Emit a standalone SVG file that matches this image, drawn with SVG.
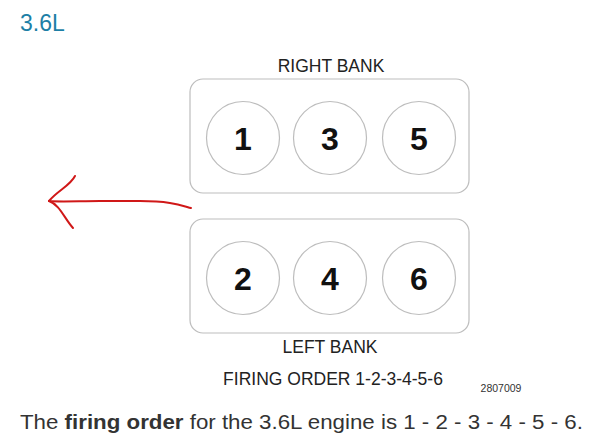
<svg xmlns="http://www.w3.org/2000/svg" width="607" height="443" viewBox="0 0 607 443">
<style>
.bank{fill:#fff;stroke:#bdbdbd;stroke-width:1.2}
.cyl{fill:#fff;stroke:#bdbdbd;stroke-width:1.2}
.num{font-family:"Liberation Sans",Arial,sans-serif;font-weight:bold;font-size:32px;fill:#111;text-anchor:middle}
.lbl{font-family:"Liberation Sans",Arial,sans-serif;font-size:17.5px;fill:#222;text-anchor:middle}
</style>
<rect width="607" height="443" fill="#fff"/>
<text x="20" y="31" font-family="'Liberation Sans',Arial,sans-serif" font-size="23" fill="#1d7fa6">3.6L</text>
<g id="right-bank">
<text class="lbl" x="331" y="72">RIGHT BANK</text>
<rect class="bank" x="190" y="79" width="279" height="114" rx="13"/>
</g>
<g id="cyl1"><circle class="cyl" cx="243" cy="138" r="36.5"/><text class="num" x="243" y="150">1</text></g>
<g id="cyl3"><circle class="cyl" cx="330" cy="138" r="36.5"/><text class="num" x="330" y="150">3</text></g>
<g id="cyl5"><circle class="cyl" cx="419" cy="138" r="36.5"/><text class="num" x="419" y="150">5</text></g>
<g id="left-bank">
<rect class="bank" x="190" y="219" width="279" height="114" rx="13"/>
<text class="lbl" x="330" y="353">LEFT BANK</text>
</g>
<g id="cyl2"><circle class="cyl" cx="243" cy="278" r="36.5"/><text class="num" x="243" y="290">2</text></g>
<g id="cyl4"><circle class="cyl" cx="330" cy="278" r="36.5"/><text class="num" x="330" y="290">4</text></g>
<g id="cyl6"><circle class="cyl" cx="419" cy="278" r="36.5"/><text class="num" x="419" y="290">6</text></g>
<g id="connectors" fill="none" stroke="#d01818" stroke-width="2" stroke-linecap="round">
<path d="M191,208 C180,205 170,201 140,201 L100,201 C80,201 60,202 49,201"/>
<path d="M75,176 C70,186 58,190 49,201"/>
<path d="M49,201 C60,205 64,218 73,228"/>
</g>
<text x="333" y="385" font-family="'Liberation Sans',Arial,sans-serif" font-size="17.5" fill="#222" text-anchor="middle">FIRING ORDER 1-2-3-4-5-6</text>
<text x="501" y="392" font-family="'Liberation Sans',Arial,sans-serif" font-size="10.5" fill="#333" text-anchor="middle">2807009</text>
<text transform="translate(20,429) scale(1.115,1)" font-family="'Liberation Sans',Arial,sans-serif" font-size="20" fill="#333">The <tspan font-weight="bold">firing order</tspan> for the 3.6L engine is 1 - 2 - 3 - 4 - 5 - 6.</text>
</svg>
